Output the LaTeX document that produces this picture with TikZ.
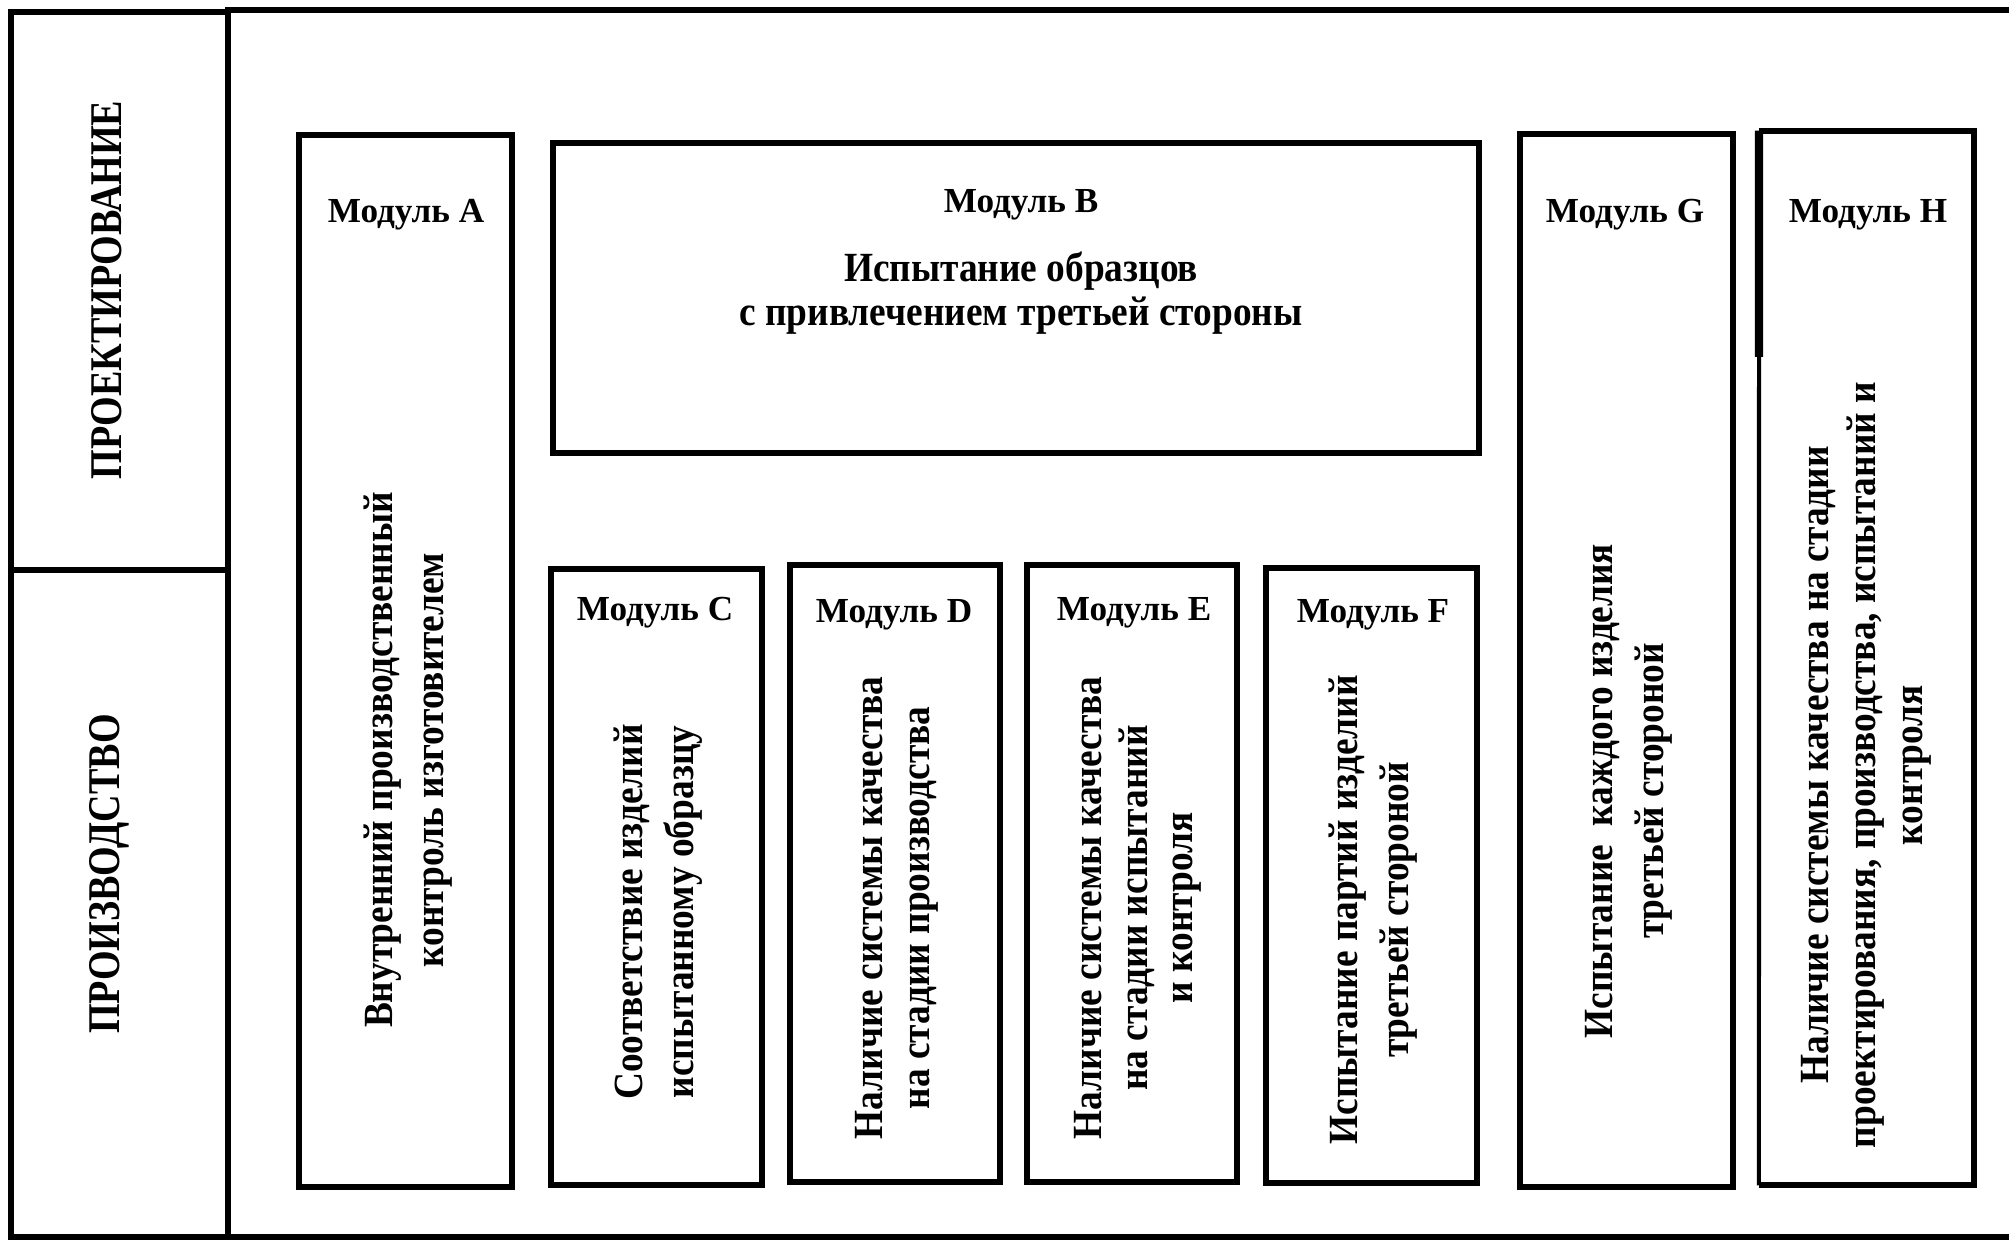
\documentclass[tikz,border=0pt]{standalone}
\usepackage{fontspec}
\setmainfont{Liberation Serif}[FakeStretch=0.9]
\newfontfamily\titlefont{Liberation Serif}
\newfontfamily\sidefont{Liberation Serif}[FakeStretch=0.84]
\begin{document}
\begin{tikzpicture}[x=0.01cm,y=-0.01cm,
  frame/.style={draw=black,line width=1.7pt},
  modbox/.style={draw=black,line width=1.7pt,rectangle,inner sep=0pt,outer sep=0pt},
  modtitle/.style={font=\titlefont\bfseries\fontsize{10}{12}\selectfont,anchor=base,inner sep=0pt},
  vtext/.style={rotate=90,align=center,inner sep=0pt,font=\bfseries\fontsize{11.8}{#1}\selectfont},
  vtext/.default=14pt,
  sidetext/.style={rotate=90,inner sep=0pt,font=\sidefont\bfseries\fontsize{12.9}{15}\selectfont}
]
\useasboundingbox (0,0) rectangle (2009,1240);
\fill[white] (0,0) rectangle (2009,1240);

% outer frames
\draw[frame] (11,12) rectangle (228,1237);
\draw[frame] (2015,10) -- (228,10) -- (228,1237) -- (2015,1237);
\draw[black,line width=1.45pt] (11,570) -- (225,570);

\node[sidetext] (proj) at (107,290) {ПРОЕКТИРОВАНИЕ};
\node[sidetext] (prod) at (109,874) {ПРОИЗВОДСТВО};

% module boxes
\node[modbox,minimum width=2.13cm,minimum height=10.52cm] (A) at (405.5,661) {};
\node[modbox,minimum width=9.26cm,minimum height=3.10cm] (B) at (1016,298) {};
\node[modbox,minimum width=2.11cm,minimum height=6.16cm] (C) at (656.5,877) {};
\node[modbox,minimum width=2.10cm,minimum height=6.17cm] (D) at (895,873.5) {};
\node[modbox,minimum width=2.10cm,minimum height=6.17cm] (E) at (1132,873.5) {};
\node[modbox,minimum width=2.11cm,minimum height=6.15cm] (F) at (1371.5,875.5) {};
\node[modbox,minimum width=2.13cm,minimum height=10.53cm] (G) at (1626.5,660.5) {};
\node[modbox,draw=none,minimum width=2.15cm,minimum height=10.54cm] (H) at (1866.5,658) {};
\draw[black,line width=1.7pt] (H.north west) -- (H.north east) -- (H.south east) -- (H.south west);
\draw[black,line width=2.3pt] (H.north west) -- (1759,357);
\draw[black,line width=1.15pt] (1759,357) -- (H.south west);

% titles
\node[modtitle] (tA) at (406,223) {Модуль A};
\node[modtitle] (tB) at (1021,213) {Модуль B};
\node[modtitle] (tC) at (655,621) {Модуль C};
\node[modtitle] (tD) at (894,623) {Модуль D};
\node[modtitle] (tE) at (1134,621) {Модуль E};
\node[modtitle] (tF) at (1373,623) {Модуль F};
\node[modtitle] (tG) at (1625,223) {Модуль G};
\node[modtitle] (tH) at (1868,223) {Модуль H};

% texts
\node[align=center,inner sep=0pt,font=\bfseries\fontsize{11.8}{12.5}\selectfont] (xB) at (1021,293)
  {Испытание образцов\\с привлечением третьей стороны};
\node[vtext=14.5pt] (xA) at (408,760) {Внутренний производственный\\контроль изготовителем};
\node[vtext=14.5pt] (xC) at (658,912) {Соответствие изделий\\испытанному образцу};
\node[vtext=13.4pt] (xD) at (897,908) {Наличие системы качества\\на стадии производства};
\node[vtext=12.9pt] (xE) at (1138,908) {Наличие системы качества\\на стадии испытаний\\и контроля};
\node[vtext=14.5pt] (xF) at (1373,910) {Испытание партий изделий\\третьей стороной};
\node[vtext=14.5pt] (xG) at (1629,791) {Испытание\ \ каждого изделия\\третьей стороной};
\node[vtext=13.4pt] (xH) at (1866,765) {Наличие системы качества на стадии\\проектирования, производства, испытаний и\\контроля};
\end{tikzpicture}
\end{document}
